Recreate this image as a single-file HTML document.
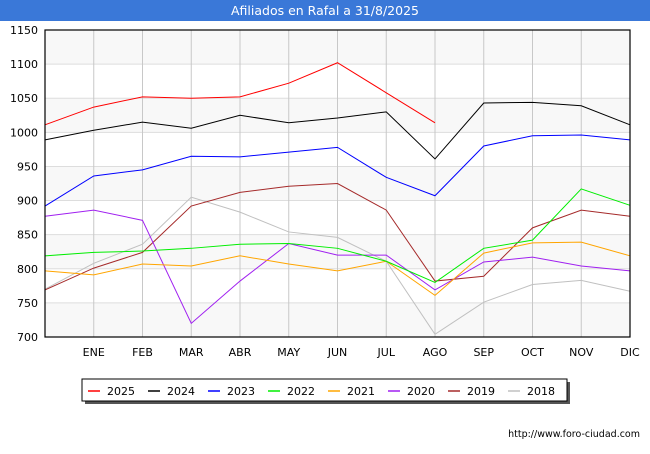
<!DOCTYPE html>
<html><head><meta charset="utf-8"><style>
body{margin:0;width:650px;height:450px;background:#fff;font-family:"DejaVu Sans",sans-serif;overflow:hidden}
</style></head><body>
<svg width="650" height="450" font-family="DejaVu Sans, sans-serif">
<rect x="0" y="0" width="650" height="21" fill="#3a78d8"/>
<text x="325" y="15" text-anchor="middle" fill="#fff" font-size="12.5">Afiliados en Rafal a 31/8/2025</text>
<g id="grid"></g><g id="series"></g>
<rect x="45" y="30" width="585" height="307" fill="none" stroke="#000" stroke-width="1.2"/>
<g id="legend"></g>
<text x="640" y="437" text-anchor="end" font-size="9.5" fill="#000">http://www.foro-ciudad.com</text>
</svg>
<script>
const months=["","ENE","FEB","MAR","ABR","MAY","JUN","JUL","AGO","SEP","OCT","NOV","DIC"];
const yTicks=[700,750,800,850,900,950,1000,1050,1100,1150];
const years=["2025","2024","2023","2022","2021","2020","2019","2018"];
const colors=["#ff0000","#000000","#0000ff","#00ee00","#ffa500","#a020f0","#a52a2a","#c0c0c0"];
const s2025=[1011,1037,1052,1050,1052,1072,1102,1058,1014];
const s2024=[989,1003,1015,1006,1025,1014,1021,1030,961,1043,1044,1039,1011];
const s2023=[892,936,945,965,964,971,978,934,907,980,995,996,989];
const s2022=[819,824,826,830,836,837,830,811,780,830,842,917,893];
const s2021=[797,791,807,804,819,807,797,811,761,823,838,839,819];
const s2020=[877,886,871,720,782,837,820,820,769,810,817,804,797];
const s2019=[769,801,824,892,912,921,925,886,782,789,860,886,877];
const s2018=[770,808,836,905,883,854,846,811,704,751,777,783,767];
const data=[s2025,s2024,s2023,s2022,s2021,s2020,s2019,s2018];
const NS="http://www.w3.org/2000/svg";
const x0=45,x1=630,y0=337,y1=30;
const xs=i=>x0+i*(x1-x0)/12;
const ys=v=>y0-(v-700)/(450)*(y0-y1);
function mk(t,a,p){const e=document.createElementNS(NS,t);for(const k in a)e.setAttribute(k,a[k]);p.appendChild(e);return e;}
const g=document.getElementById('grid');
for(let i=0;i<yTicks.length-1;i++){
 if(i%2==0){const r=mk('rect',{x:x0,y:ys(yTicks[i+1]),width:x1-x0,height:ys(yTicks[i])-ys(yTicks[i+1]),fill:'#f8f8f8'},g);
 
 }
}
yTicks.forEach(v=>{
 const l=mk('line',{x1:x0,x2:x1,y1:ys(v),y2:ys(v),stroke:'#ddd'},g);
 
 
 const t=mk('text',{x:38,y:ys(v)+4,'text-anchor':'end','font-size':'11',fill:'#000'},g);t.textContent=v;
 
 
});
months.forEach((m,i)=>{
 if(i>0){const l=mk('line',{x1:xs(i),x2:xs(i),y1:y1,y2:y0,stroke:'#c8c8c8'},g);
 
 }
 const t=mk('text',{x:xs(i),y:356,'text-anchor':'middle','font-size':'11',fill:'#000'},g);t.textContent=m;
 
 
});
const sg=document.getElementById('series');
for(let k=data.length-1;k>=0;k--){
 const p=mk('polyline',{points:data[k].map((v,i)=>xs(i)+','+ys(v)).join(' '),fill:'none',stroke:colors[k],'stroke-width':'1'},sg);
 
 
}
const lg=document.getElementById('legend');
const sh=mk('rect',{x:85,y:382,width:485,height:22,fill:'#555'},lg);


const box=mk('rect',{x:82,y:379,width:485,height:22,fill:'#fff',stroke:'#000'},lg);


years.forEach((y,k)=>{
 const bx=88+k*60;
 const l=mk('line',{x1:bx,x2:bx+12,y1:391,y2:391,stroke:colors[k],'stroke-width':'1.5'},lg);
 
 
 const t=mk('text',{x:bx+19,y:395,'font-size':'11',fill:'#000'},lg);t.textContent=y;
 
 
});
</script>
</body></html>
